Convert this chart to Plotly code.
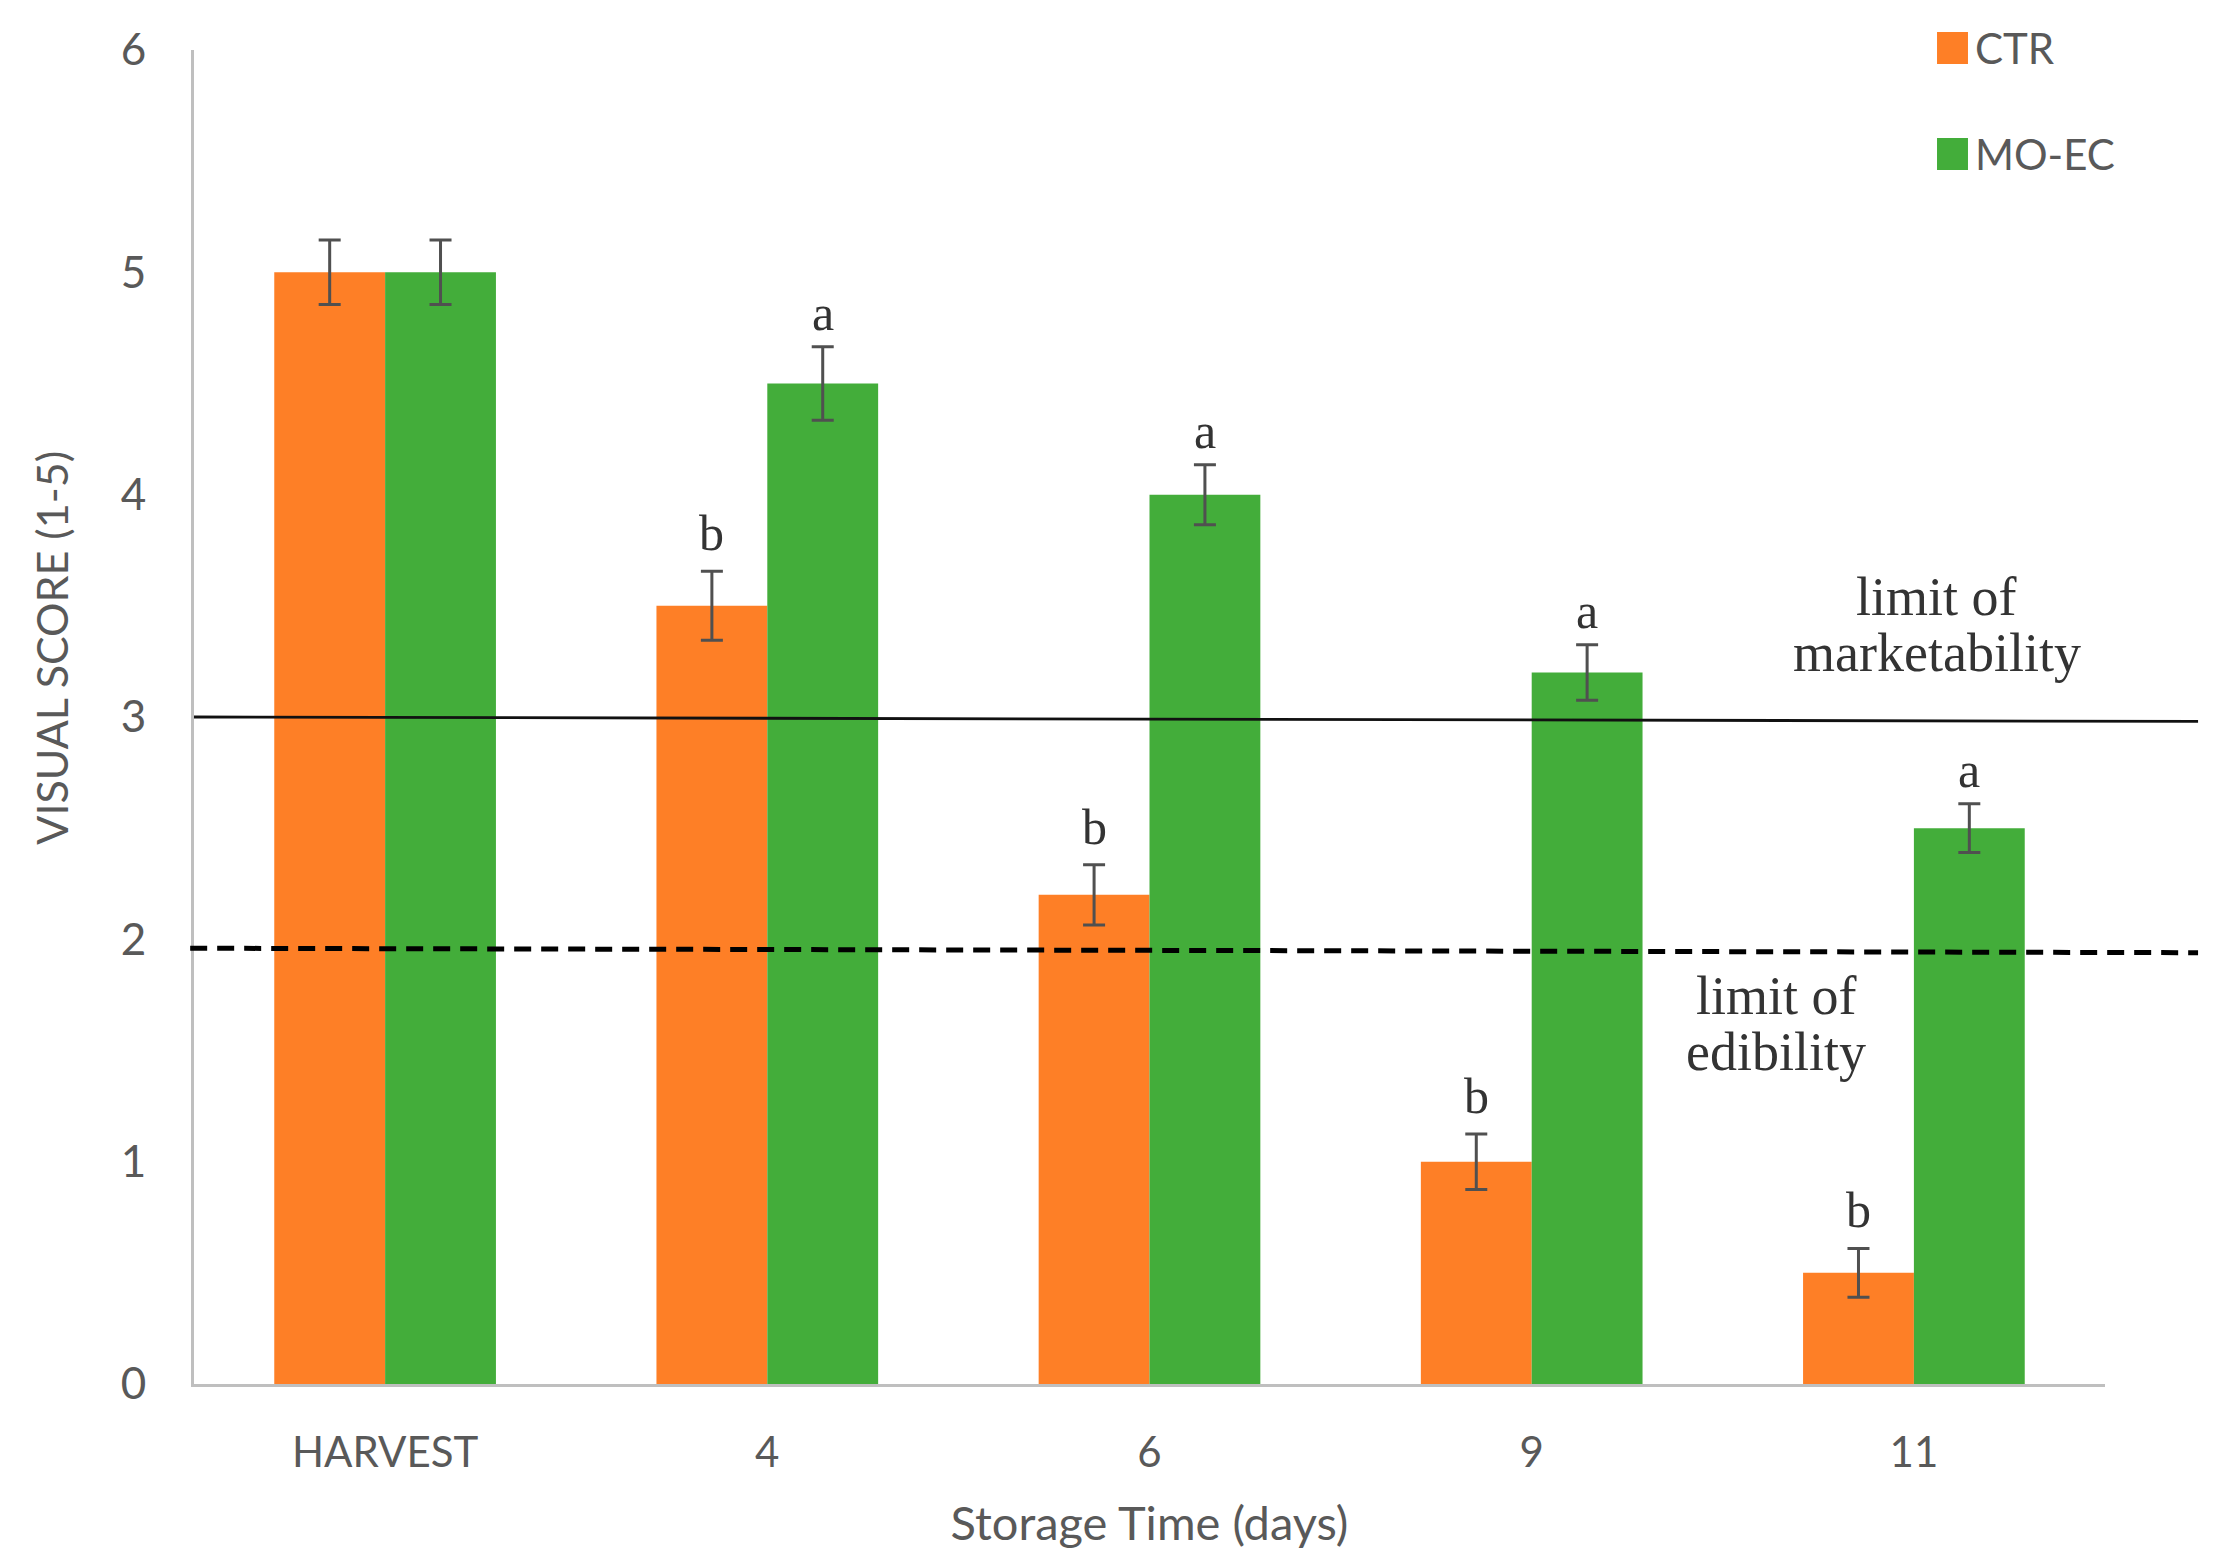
import plotly.graph_objects as go

# ---- data ----
categories = ["HARVEST", "4", "6", "9", "11"]
ctr_values = [5.0, 3.5, 2.2, 1.0, 0.5]
moec_values = [5.0, 4.5, 4.0, 3.2, 2.5]
ctr_errors = [0.145, 0.155, 0.135, 0.125, 0.11]
moec_errors = [0.145, 0.165, 0.135, 0.125, 0.11]
ctr_letters = ["", "b", "b", "b", "b"]
moec_letters = ["", "a", "a", "a", "a"]
y_ticks = [0, 1, 2, 3, 4, 5, 6]
marketability_limit = [3.0, 2.98]   # left / right end
edibility_limit = [1.96, 1.94]      # left / right end

ORANGE = "#FE7F26"
GREEN = "#43AD3A"
GRAY_TXT = "#595959"
AXIS_GRAY = "#BFBFBF"
ERR_GRAY = "#505050"
SANS = "Lato, 'Open Sans', sans-serif"
SERIF = "'Liberation Serif', 'DejaVu Serif', serif"

BAR_W = 0.29
xpos = list(range(len(categories)))

fig = go.Figure()
fig.add_trace(go.Bar(
    name="CTR", x=xpos, y=ctr_values, width=BAR_W, offset=-BAR_W,
    marker=dict(color=ORANGE, line=dict(width=0)),
    error_y=dict(type="data", array=ctr_errors, color=ERR_GRAY, thickness=3, width=11),
    showlegend=False,
))
fig.add_trace(go.Bar(
    name="MO-EC", x=xpos, y=moec_values, width=BAR_W, offset=0,
    marker=dict(color=GREEN, line=dict(width=0)),
    error_y=dict(type="data", array=moec_errors, color=ERR_GRAY, thickness=3, width=11),
    showlegend=False,
))

letter_font = dict(family=SERIF, size=50, color="#333333")
annotations = []
for i in xpos:
    if ctr_letters[i]:
        annotations.append(dict(
            x=i - BAR_W / 2, y=ctr_values[i] + ctr_errors[i], xref="x", yref="y",
            text=ctr_letters[i], showarrow=False, yanchor="bottom", yshift=8,
            font=letter_font))
    if moec_letters[i]:
        annotations.append(dict(
            x=i + BAR_W / 2, y=moec_values[i] + moec_errors[i], xref="x", yref="y",
            text=moec_letters[i], showarrow=False, yanchor="bottom", yshift=4,
            font=letter_font))

# limit labels
label_font = dict(family=SERIF, size=54, color="#333333")
for txt, yy in [("limit of", 3.54), ("marketability", 3.29)]:
    annotations.append(dict(x=0.912, y=yy, xref="paper", yref="y", text=txt,
                            showarrow=False, xanchor="center", yanchor="middle", font=label_font))
for txt, yy in [("limit of", 1.745), ("edibility", 1.495)]:
    annotations.append(dict(x=0.828, y=yy, xref="paper", yref="y", text=txt,
                            showarrow=False, xanchor="center", yanchor="middle", font=label_font))

# y-axis title (placed like the reference, slightly above centre)
annotations.append(dict(x=-0.0743, y=0.552, xref="paper", yref="paper",
                        text="VISUAL SCORE (1-5)", textangle=-90, showarrow=False,
                        xanchor="center", yanchor="middle",
                        font=dict(family=SANS, size=43, color=GRAY_TXT)))

# legend (drawn)
legend_items = [("CTR", ORANGE, 1.0015), ("MO-EC", GREEN, 0.922)]
shapes = []
for name, col, yc in legend_items:
    shapes.append(dict(type="rect", xref="paper", yref="paper",
                       x0=0.9121, x1=0.9283, y0=yc - 0.012, y1=yc + 0.012,
                       fillcolor=col, line=dict(width=0)))
    annotations.append(dict(x=0.931, y=yc, xref="paper", yref="paper", text=name,
                            showarrow=False, xanchor="left", yanchor="middle",
                            font=dict(family=SANS, size=42, color=GRAY_TXT)))

# limit lines
shapes.append(dict(type="line", xref="paper", yref="y", x0=0, x1=1.0487,
                   y0=marketability_limit[0], y1=marketability_limit[1],
                   line=dict(color="#111111", width=2.8), layer="above"))
shapes.append(dict(type="line", xref="paper", yref="y", x0=-0.002, x1=1.0487,
                   y0=edibility_limit[0], y1=edibility_limit[1],
                   line=dict(color="#000000", width=5, dash="17px,10px"), layer="above"))

fig.update_layout(
    width=2206, height=1552,
    margin=dict(l=186, r=109, t=42, b=176),
    paper_bgcolor="white", plot_bgcolor="white",
    barmode="group",
    font=dict(family=SANS, size=42, color=GRAY_TXT),
    annotations=annotations, shapes=shapes,
    showlegend=False,
)
fig.update_xaxes(
    range=[-0.5, len(categories) - 0.5],
    tickmode="array", tickvals=xpos, ticktext=categories,
    showgrid=False, zeroline=False,
    showline=True, linecolor=AXIS_GRAY, linewidth=3,
    ticks="", ticklabelstandoff=30,
    tickfont=dict(family=SANS, size=42, color=GRAY_TXT),
    title=dict(text="Storage Time (days)", standoff=32,
               font=dict(family=SANS, size=47, color=GRAY_TXT)),
)
fig.update_yaxes(
    range=[0, 6], tickmode="array", tickvals=y_ticks,
    showgrid=False, zeroline=False,
    showline=True, linecolor=AXIS_GRAY, linewidth=3,
    ticks="", ticklabelstandoff=36,
    tickfont=dict(family=SANS, size=44, color=GRAY_TXT),
)

fig.write_html("out.html")
